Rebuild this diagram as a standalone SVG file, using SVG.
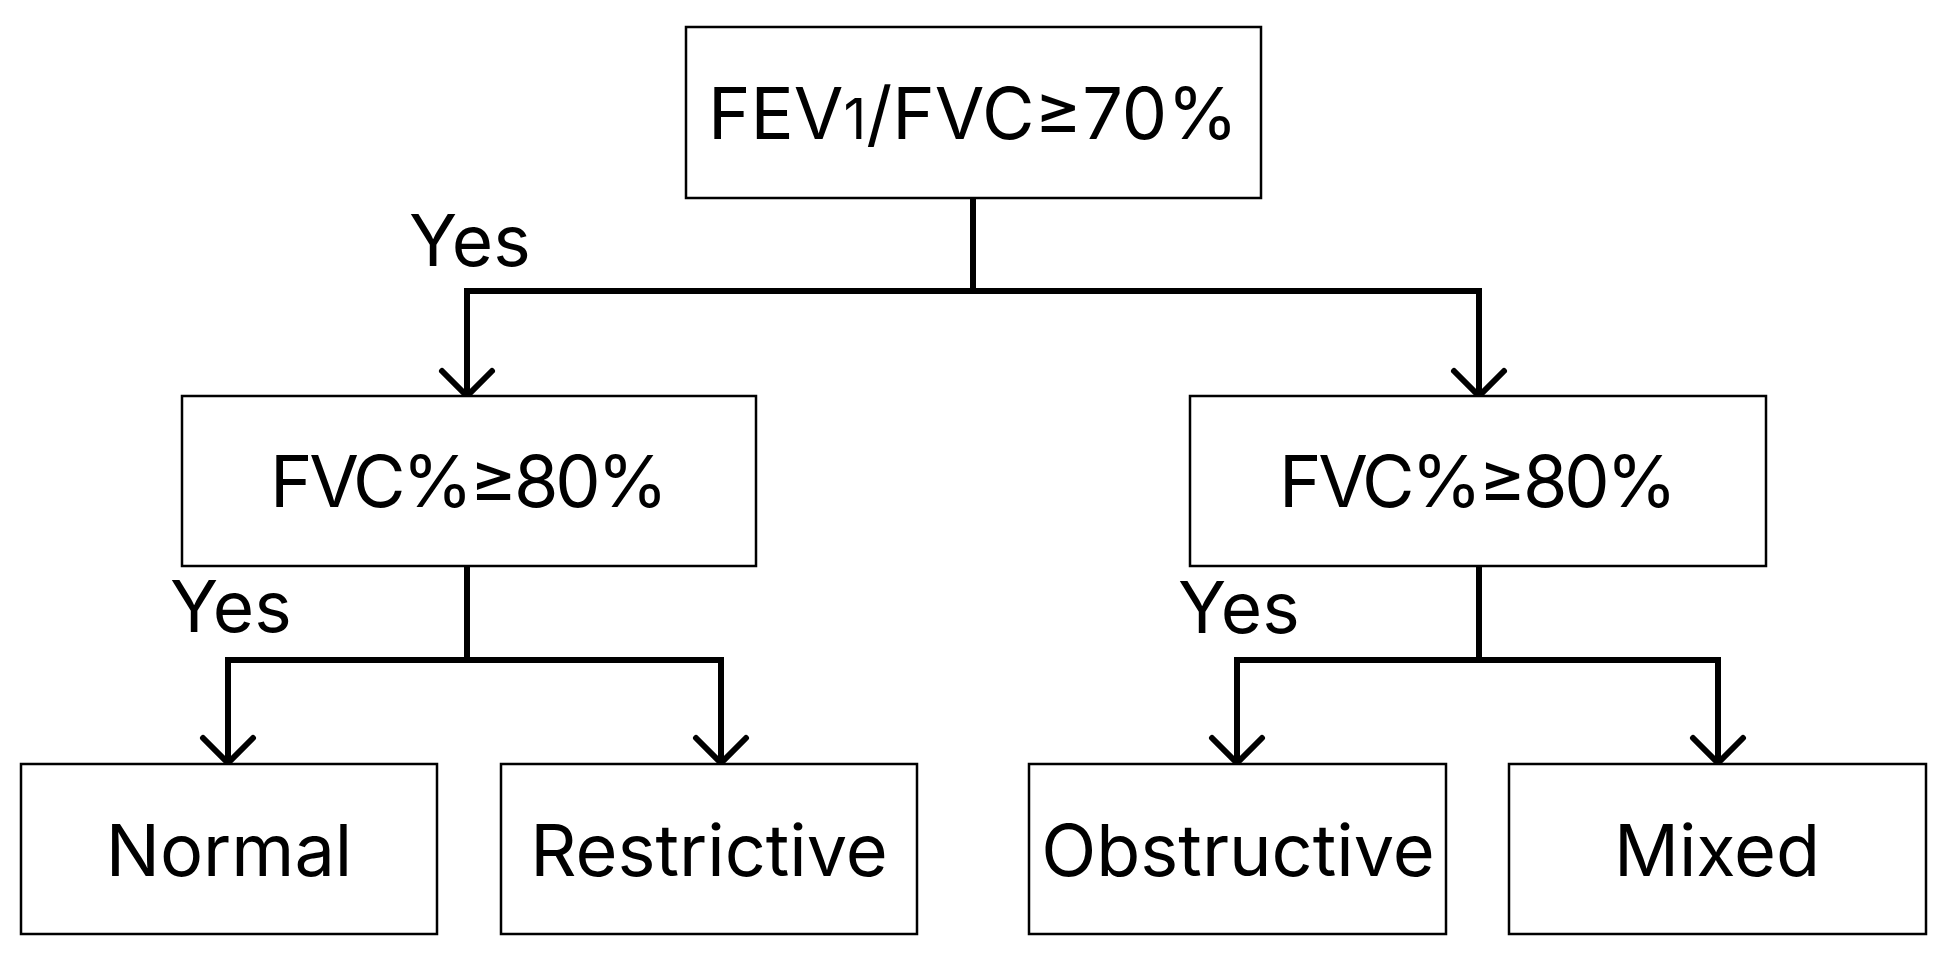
<svg xmlns="http://www.w3.org/2000/svg" width="1952" height="958" viewBox="0 0 1952 958">
<style>
.box{fill:#fff;stroke:#000;stroke-width:2.5}
.lbl{font-family:Inter,"Liberation Sans",sans-serif;font-size:72px;fill:#000;text-anchor:middle}
.yes{font-family:Inter,"Liberation Sans",sans-serif;font-size:71px;fill:#000}
.ln{fill:none;stroke:#000;stroke-width:6;stroke-linecap:square}
.ah{fill:none;stroke:#000;stroke-width:6;stroke-linecap:round;stroke-linejoin:miter}
</style>
<rect width="1952" height="958" fill="#fff"/>
<g id="connectors">
<path class="ln" d="M973,198 V291 M467,291 H1479 M467,291 V393 M1479,291 V393"/>
<path class="ln" d="M467,566 V660 M228,660 H721 M228,660 V760 M721,660 V760"/>
<path class="ln" d="M1479,566 V660 M1237,660 H1718 M1237,660 V760 M1718,660 V760"/>
<path class="ah" d="M442,371 L467,396 L492,371"/>
<path class="ah" d="M1454,371 L1479,396 L1504,371"/>
<path class="ah" d="M203,738 L228,763 L253,738"/>
<path class="ah" d="M696,738 L721,763 L746,738"/>
<path class="ah" d="M1212,738 L1237,763 L1262,738"/>
<path class="ah" d="M1693,738 L1718,763 L1743,738"/>
<text class="yes" x="409" y="266">Yes</text>
<text class="yes" x="170" y="632">Yes</text>
<text class="yes" x="1178" y="633">Yes</text>
</g>
<g id="n-root">
<rect class="box" x="686" y="27" width="575" height="171"/>
<text class="lbl" x="973" y="139">FEV<tspan font-size="56">1</tspan>/FVC≥70%</text>
</g>
<g id="n-fvc-left">
<rect class="box" x="182" y="396" width="574" height="170"/>
<text class="lbl" x="469" y="507" textLength="398" lengthAdjust="spacing">FVC%≥80%</text>
</g>
<g id="n-fvc-right">
<rect class="box" x="1190" y="396" width="576" height="170"/>
<text class="lbl" x="1478" y="507" textLength="398" lengthAdjust="spacing">FVC%≥80%</text>
</g>
<g id="n-normal">
<rect class="box" x="21" y="764" width="416" height="170"/>
<text class="lbl" x="229" y="876">Normal</text>
</g>
<g id="n-restrictive">
<rect class="box" x="501" y="764" width="416" height="170"/>
<text class="lbl" x="709" y="876">Restrictive</text>
</g>
<g id="n-obstructive">
<rect class="box" x="1029" y="764" width="417" height="170"/>
<text class="lbl" x="1238" y="876">Obstructive</text>
</g>
<g id="n-mixed">
<rect class="box" x="1509" y="764" width="417" height="170"/>
<text class="lbl" x="1717" y="876">Mixed</text>
</g>
</svg>
